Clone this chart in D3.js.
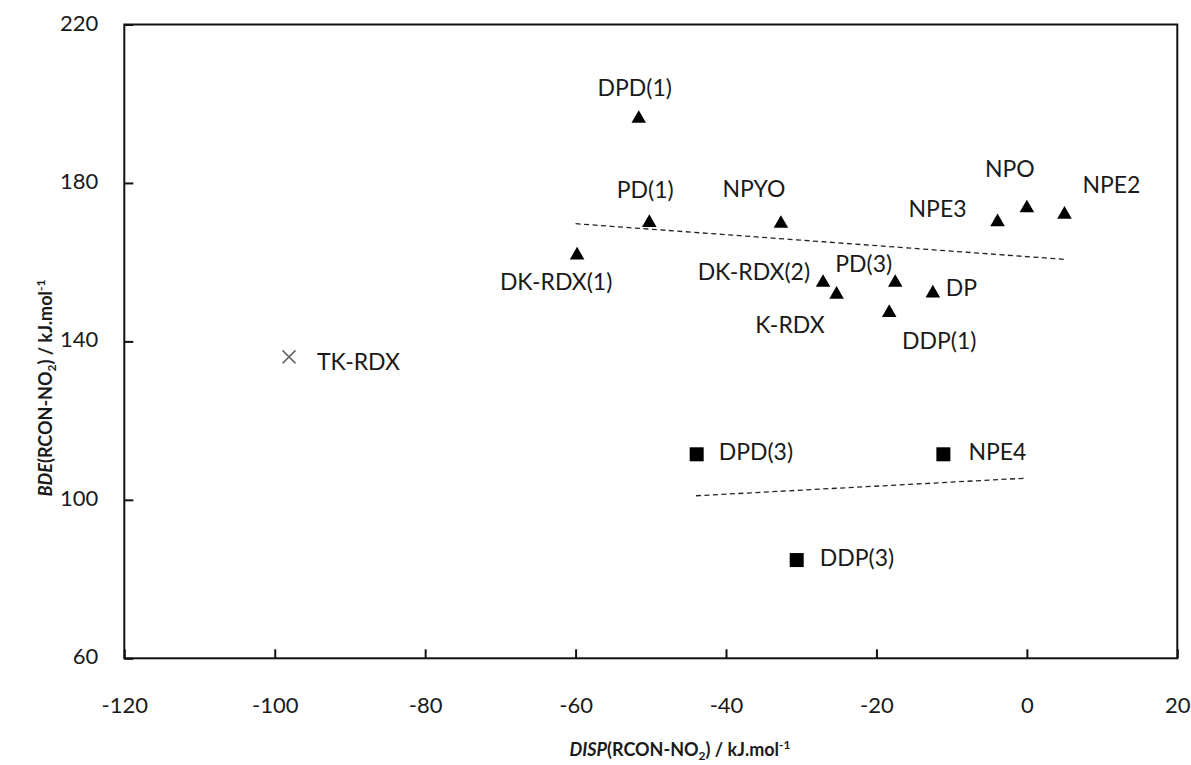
<!DOCTYPE html>
<html>
<head>
<meta charset="utf-8">
<script src="https://cdn.jsdelivr.net/npm/d3@7"></script>
<style>
  html, body { margin: 0; padding: 0; background: #fff; }
  svg { display: block; font-family: Lato, "Open Sans", sans-serif; }
</style>
</head>
<body>
<svg id="chart" width="1191" height="765"></svg>
<script>
// ---- data ----
const names   = ["DPD(1)", "PD(1)", "NPYO", "DK-RDX(1)", "DK-RDX(2)", "K-RDX", "PD(3)", "DDP(1)", "DP", "NPE3", "NPO", "NPE2", "TK-RDX", "DPD(3)", "NPE4", "DDP(3)"];
const dispVals = [-51.6, -50.2, -32.7, -59.8, -27.1, -25.3, -17.5, -18.3, -12.5, -3.9, 0.0, 5.0, -98.1, -43.9, -11.1, -30.6];
const bdeVals  = [196.5, 170.2, 170.0, 162.0, 155.1, 152.1, 155.1, 147.5, 152.4, 170.4, 173.9, 172.3, 136.1, 111.5, 111.5, 84.8];
const groups   = ["tri", "tri", "tri", "tri", "tri", "tri", "tri", "tri", "tri", "tri", "tri", "tri", "cross", "sq", "sq", "sq"];
const xTicks = [-120, -100, -80, -60, -40, -20, 0, 20];
const yTicks = [60, 100, 140, 180, 220];
const trendGroups = ["tri", "sq"];
const trendFrom = [-60, -44];   // x range over which each linear trendline is drawn
const trendTo   = [5, 0];

// label placement (style, kept apart from data): [dx, dy, anchor]
const labelPlace = {
  "DPD(1)": [-4, -27, "middle"], "PD(1)": [-4, -30, "middle"], "NPYO": [-27, -31, "middle"],
  "DK-RDX(1)": [-21, 30, "middle"], "DK-RDX(2)": [-13, -7, "end"], "K-RDX": [-12, 34, "end"],
  "PD(3)": [-3, -15, "end"], "DDP(1)": [50, 31, "middle"], "DP": [13, -2, "start"],
  "NPE3": [-60, -10, "middle"], "NPO": [-17, -36, "middle"], "NPE2": [47, -26, "middle"],
  "TK-RDX": [28, 7, "start"], "DPD(3)": [22, 0, "start"], "NPE4": [25, 0, "start"], "DDP(3)": [23, 0, "start"]
};

const points = names.map((n, i) => ({ name: n, x: dispVals[i], y: bdeVals[i], g: groups[i] }));

// ---- layout ----
const L = 124.3, R = 1177.3, T = 24.5, B = 658.3;
const svg = d3.select("#chart");
const x = d3.scaleLinear().domain([-120, 20]).range([L, R]);
const y = d3.scaleLinear().domain([60, 220]).range([B, T]);

// axes with inside ticks
const xAxis = svg.append("g").attr("transform", `translate(0,${B})`)
  .call(d3.axisBottom(x).tickValues(xTicks).tickSizeInner(-9).tickSizeOuter(0).tickPadding(0).tickFormat(d3.format("d")));
const yAxis = svg.append("g").attr("transform", `translate(${L},0)`)
  .call(d3.axisLeft(y).tickValues(yTicks).tickSizeInner(-9).tickSizeOuter(0).tickPadding(0).tickFormat(d3.format("d")));
[xAxis, yAxis].forEach(a => {
  a.select(".domain").remove();
  a.selectAll(".tick line").attr("stroke", "#111").attr("stroke-width", 2);
  a.selectAll(".tick text").attr("fill", "#1a1a1a").style("font-size", "22px").style("font-family", "Lato, sans-serif");
});
xAxis.selectAll(".tick text").attr("y", 49).attr("dy", null).attr("dominant-baseline", "middle").text(d => d < 0 ? "-" + Math.abs(d) : d);
yAxis.selectAll(".tick text").attr("x", -26).attr("dy", null).attr("dominant-baseline", "middle").text(d => d);

// plot border
svg.append("rect").attr("x", L).attr("y", T).attr("width", R - L).attr("height", B - T)
  .attr("fill", "none").attr("stroke", "#111").attr("stroke-width", 2);

// linear trend lines (least squares over each group's points)
trendGroups.forEach((g, gi) => {
  const pts = points.filter(p => p.g === g);
  const mx = d3.mean(pts, p => p.x), my = d3.mean(pts, p => p.y);
  const sxy = d3.sum(pts, p => (p.x - mx) * (p.y - my)), sxx = d3.sum(pts, p => (p.x - mx) ** 2);
  const k = sxy / sxx, b = my - k * mx;
  svg.append("path")
    .attr("d", d3.line().x(v => x(v)).y(v => y(k * v + b))([trendFrom[gi], trendTo[gi]]))
    .attr("fill", "none").attr("stroke", "#222").attr("stroke-width", 1.3).attr("stroke-dasharray", "5,3.5");
});

// markers
const triSym = d3.symbol().type(d3.symbolTriangle).size(92);
svg.append("g").selectAll("path").data(points.filter(p => p.g === "tri")).join("path")
  .attr("transform", p => `translate(${x(p.x)},${y(p.y) + 1})`)
  .attr("d", triSym).attr("fill", "#000");
svg.append("g").selectAll("rect").data(points.filter(p => p.g === "sq")).join("rect")
  .attr("x", p => x(p.x) - 7).attr("y", p => y(p.y) - 7).attr("width", 14).attr("height", 14).attr("fill", "#000");
svg.append("g").selectAll("path").data(points.filter(p => p.g === "cross")).join("path")
  .attr("d", p => { const cx = x(p.x), cy = y(p.y), s = 6.5; return `M${cx - s},${cy - s}L${cx + s},${cy + s}M${cx - s},${cy + s}L${cx + s},${cy - s}`; })
  .attr("stroke", "#666").attr("stroke-width", 1.5).attr("fill", "none");

// data labels
svg.append("g").selectAll("text").data(points).join("text")
  .attr("x", p => x(p.x) + labelPlace[p.name][0])
  .attr("y", p => y(p.y) + labelPlace[p.name][1])
  .attr("text-anchor", p => labelPlace[p.name][2])
  .attr("dominant-baseline", "middle")
  .attr("fill", "#1a1a1a").style("font-size", "23px")
  .text(p => p.name);

// axis titles
function title(sel, italicPart) {
  sel.attr("fill", "#1a1a1a").style("font-size", "18px").style("font-weight", "bold");
  sel.append("tspan").style("font-style", "italic").text(italicPart);
  sel.append("tspan").text("(RCON-NO");
  sel.append("tspan").attr("dy", 4).style("font-size", "12px").text("2");
  sel.append("tspan").attr("dy", -4).text(") / kJ.mol");
  sel.append("tspan").attr("dy", -7).style("font-size", "12px").text("-1");
}
svg.append("text").attr("x", 680).attr("y", 756).attr("text-anchor", "middle").call(title, "DISP");
svg.append("text").attr("transform", "translate(52,388) rotate(-90)").attr("text-anchor", "middle").call(title, "BDE");
</script>
</body>
</html>
